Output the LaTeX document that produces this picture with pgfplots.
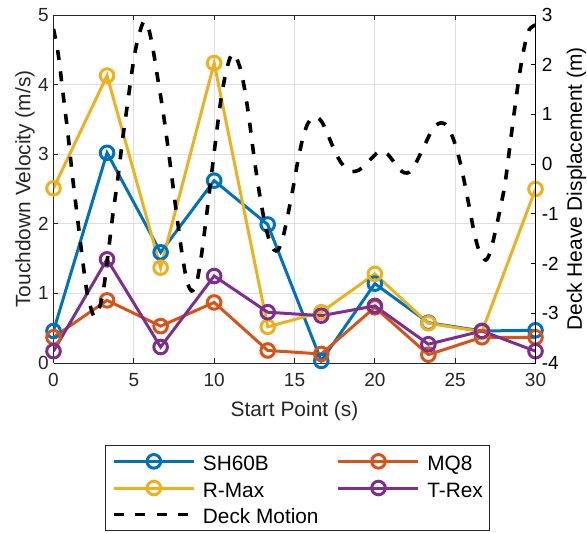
\documentclass[border=0pt]{standalone}
\usepackage{pgfplots}
\pgfplotsset{compat=1.18}
\usepackage{fontspec}
\setmainfont{Liberation Sans}
\definecolor{mblue}{rgb}{0,0.447,0.741}
\definecolor{morange}{rgb}{0.85,0.325,0.098}
\definecolor{myellow}{rgb}{0.929,0.694,0.125}
\definecolor{mpurple}{rgb}{0.494,0.184,0.556}
\definecolor{axgray}{rgb}{0.15,0.15,0.15}

\pgfplotstableread{
x v
0.0 2.72
0.3 2.2
0.6 1.4
0.9 0.6
1.2 -0.3
1.5 -1.1
1.8 -1.9
2.1 -2.6
2.5 -3.05
2.8 -2.95
3.1 -2.55
3.4 -1.8
3.7 -1.0
4.0 -0.3
4.3 0.5
4.6 1.2
4.9 1.9
5.2 2.45
5.6 2.86
5.9 2.75
6.2 2.3
6.5 1.7
6.8 1.1
7.1 0.4
7.4 -0.35
7.7 -1.1
8.0 -1.8
8.3 -2.35
8.6 -2.55
8.9 -2.4
9.2 -1.85
9.5 -1.1
9.8 -0.3
10.1 0.5
10.4 1.25
10.7 1.8
11.0 2.15
11.25 2.22
11.6 1.95
11.9 1.5
12.2 0.85
12.5 0.1
12.8 -0.55
13.1 -1.1
13.4 -1.5
13.7 -1.72
14.0 -1.72
14.3 -1.45
14.6 -1.0
14.9 -0.5
15.2 0.05
15.5 0.5
15.8 0.8
16.1 0.93
16.4 0.95
16.7 0.85
17.0 0.65
17.3 0.42
17.6 0.2
17.9 0.03
18.2 -0.08
18.6 -0.15
19.0 -0.12
19.4 -0.02
19.8 0.12
20.2 0.24
20.5 0.26
20.8 0.2
21.1 0.08
21.4 -0.05
21.7 -0.15
22.0 -0.18
22.3 -0.12
22.6 0.05
22.9 0.25
23.2 0.45
23.5 0.65
23.8 0.78
24.1 0.83
24.4 0.8
24.7 0.65
25.0 0.4
25.3 0.05
25.6 -0.4
25.9 -0.9
26.2 -1.4
26.5 -1.75
26.9 -1.93
27.2 -1.75
27.5 -1.35
27.8 -0.9
28.1 -0.4
28.4 0.35
28.7 1.1
29.0 1.8
29.3 2.35
29.6 2.7
30.0 2.8
}\deck

\pgfplotstableread{
x sh mq rmax trex
0     0.46 0.37 2.51 0.17
3.333 3.02 0.90 4.13 1.49
6.667 1.59 0.53 1.37 0.23
10    2.62 0.87 4.31 1.25
13.333 1.99 0.18 0.52 0.73
16.667 0.03 0.13 0.73 0.68
20    1.14 0.80 1.28 0.82
23.333 0.58 0.12 0.57 0.27
26.667 0.46 0.37 0.45 0.46
30    0.47 0.37 2.50 0.17
}\vel

\begin{document}
\begin{tikzpicture}
\path[use as bounding box] (0pt,0pt) rectangle (293.5pt,266pt);
\begin{axis}[
  at={(26.75pt,84.5pt)}, anchor=south west,
  scale only axis, width=241pt, height=174pt,
  xmin=0, xmax=30, ymin=0, ymax=5,
  axis y line*=left,
  axis line style={color=axgray, line width=0.5pt},
  xtick={0,5,...,30}, ytick={0,1,...,5},
  tick align=inside, major tick length=2.4pt,
  tick style={color=axgray, line width=0.5pt},
  xtick pos=both,
  grid=major, major grid style={color=black!13, line width=0.4pt},
  /pgf/number format/assume math mode=true,
  tick label style={font=\fontsize{9.5}{11}\selectfont, text=axgray},
  xticklabel style={anchor=north, inner sep=0pt, yshift=-5pt},
  yticklabel style={anchor=east, inner sep=0pt, xshift=-2.2pt},
  xlabel={Start Point (s)},
  ylabel={Touchdown Velocity (m/s)},
  label style={font=\fontsize{10.45}{12}\selectfont, text=axgray},
  xlabel style={at={(axis description cs:0.5,-0.155)}, anchor=base},
  ylabel style={at={(axis description cs:-0.048,0.5)}, anchor=base, rotate=0},
  legend columns=2,
  legend cell align=left,
  legend image code/.code={\draw[mark repeat=2,mark phase=2,#1] plot coordinates {(0pt,0pt) (20pt,0pt) (40pt,0pt)};},
  legend style={at={(axis description cs:0.1068,-0.2356)}, anchor=north west,
    font=\fontsize{10.4}{12}\selectfont, draw=axgray, line width=0.5pt,
    inner xsep=3.3pt, inner ysep=2pt, row sep=1.48pt,
    nodes={inner xsep=0pt, inner ysep=0pt, text height=10.5pt, text depth=1.35pt},
    /tikz/every odd column/.append style={column sep=3.65pt},
    /tikz/every even column/.append style={column sep=9.2pt}},
  every axis plot/.append style={line width=1.5pt, mark=o, mark size=3.4pt, mark options={solid}},
]
\addplot[color=mblue] table[x=x, y=sh] {\vel};
\addlegendentry{SH60B}
\addplot[color=morange] table[x=x, y=mq] {\vel};
\addlegendentry{MQ8}
\addplot[color=myellow] table[x=x, y=rmax] {\vel};
\addlegendentry{R-Max}
\addplot[color=mpurple] table[x=x, y=trex] {\vel};
\addlegendentry{T-Rex}
\addlegendimage{black, line width=1.8pt, dash pattern=on 5pt off 5.75pt, no marks}
\addlegendentry{Deck Motion}
\end{axis}
\begin{axis}[
  at={(26.75pt,84.5pt)}, anchor=south west,
  scale only axis, width=241pt, height=174pt,
  xmin=0, xmax=30, ymin=-4, ymax=3,
  axis y line*=right, axis x line=none,
  axis line style={color=black, line width=0.5pt},
  ytick={-4,-3,...,3},
  tick align=inside, major tick length=2.4pt,
  tick style={color=black, line width=0.5pt},
  /pgf/number format/assume math mode=true,
  tick label style={font=\fontsize{9.5}{11}\selectfont},
  yticklabel style={anchor=west, inner sep=0pt, xshift=3pt},
  ylabel={Deck Heave Displacement (m)},
  ylabel style={font=\fontsize{10.45}{12}\selectfont, at={(axis description cs:1.096,0.5)}, anchor=base},
]
\addplot[black, line width=1.8pt, dash pattern=on 5pt off 5.75pt, smooth, tension=0.5, no marks] table[x=x, y=v] {\deck};
\end{axis}
\end{tikzpicture}
\end{document}
